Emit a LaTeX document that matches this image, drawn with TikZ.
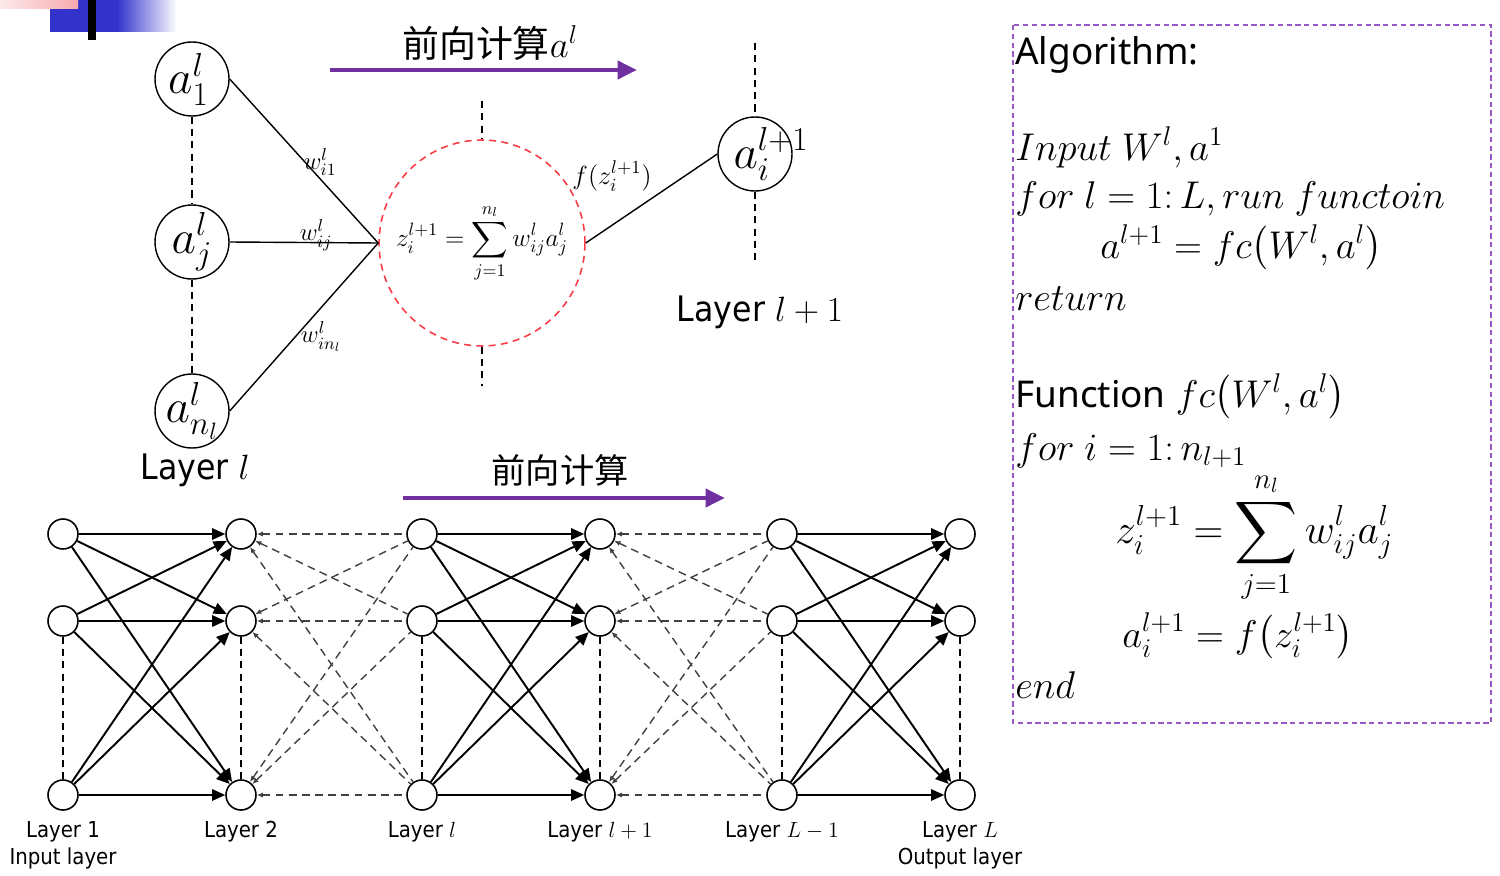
\RequirePackage{fix-cm}
\documentclass[tikz,border=0pt]{standalone}
\usepackage{exscale}
\usepackage[no-math]{fontspec}
\setmainfont{Noto Sans}
\newfontfamily\layerfont{DejaVu Sans Condensed}
\newfontfamily\cjk{Noto Sans CJK SC}
\usetikzlibrary{arrows.meta}
\definecolor{fwdpurple}{RGB}{112,48,160}
\definecolor{boxpurple}{RGB}{150,90,200}
\definecolor{sumred}{RGB}{250,60,70}
\definecolor{decoblue}{RGB}{51,51,204}
\definecolor{decopink}{RGB}{247,170,175}

\begin{document}
\begin{tikzpicture}[x=0.02cm,y=-0.02cm,
    neuron/.style={circle,draw,line width=0.8pt,minimum size=1.48cm,inner sep=0pt},
    neulab/.style={font=\fontsize{27}{30}\selectfont,inner sep=0pt},
    sumnode/.style={circle,draw=sumred,line width=0.9pt,dash pattern=on 4pt off 3pt,minimum size=4.12cm,inner sep=0pt,font=\fontsize{14.5}{17}\selectfont},
    wlab/.style={font=\fontsize{14}{16}\selectfont,inner sep=0pt},
    vline/.style={line width=0.8pt,dash pattern=on 4pt off 3pt},
    unit/.style={circle,draw,line width=0.9pt,minimum size=0.6cm,inner sep=0pt},
    fwd/.style={line width=1.1pt,-{Triangle[length=7.5pt,width=6.5pt]}},
    skip/.style={line width=0.8pt,black!75,dash pattern=on 4.5pt off 3pt,{Latex[length=3.5pt,width=3pt]}-},
    fwdarrow/.style={line width=2.8pt,fwdpurple,-{Triangle[length=11pt,width=10pt]}},
    cjktitle/.style={font=\cjk\fontsize{21}{25}\selectfont},
    toplayer/.style={font=\layerfont\fontsize{20}{24}\selectfont},
    botlayer/.style={font=\layerfont\fontsize{12.5}{15}\selectfont,inner sep=0pt},
    algtext/.style={anchor=base west,inner sep=0pt,font=\fontsize{22}{26}\selectfont}]
\useasboundingbox (0,0) rectangle (1500,875);

\fill[decoblue] (50,0) rectangle (117,32);
\shade[left color=decoblue,right color=white] (117,0) rectangle (177,32);
\shade[left color=decopink!25,right color=decopink] (0,0) rectangle (78,9);
\fill[black] (88,0) rectangle (96,40);

\node[cjktitle] (title1) at (490,43) {前向计算$a^l$};
\coordinate (fa1) at (330,70);
\coordinate (fa2) at (637,70);
\draw[fwdarrow] (fa1) -- (fa2);

\node[neuron,label={[neulab,xshift=-2pt]center:$a_1^l$}] (a1) at (192,79) {};
\node[neuron,label={[neulab]center:$a_j^l$}] (aj) at (192,242) {};
\node[neuron,label={[neulab]center:$a_{n_l}^l$}] (an) at (192,411) {};
\draw[vline] (a1) -- (aj);
\draw[vline] (aj) -- (an);
\node[toplayer] (layl) at (195,470) {Layer $l$};

\node[sumnode] (zc) at (482,243) {$\displaystyle z_i^{l+1}=\sum_{j=1}^{n_l}w_{ij}^l a_j^l$};
\coordinate (zt) at (482,101);
\coordinate (zb) at (482,386);
\draw[vline] (zt) -- (zc.north);
\draw[vline] (zc.south) -- (zb);

\draw[line width=0.8pt] (a1.east) -- (zc.west);
\draw[line width=0.8pt] (aj.east) -- (zc.west);
\draw[line width=0.8pt] (an.east) -- (zc.west);
\node[wlab] (w1) at (320,162) {$w_{i1}^l$};
\node[wlab] (wj) at (316,235) {$w_{ij}^l$};
\node[wlab] (wn) at (321,337) {$w_{in_l}^l$};

\node[neuron,label={[neulab,xshift=0.32cm]center:$a_i^{l+1}$}] (ai) at (755,154) {};
\coordinate (at) at (755,43);
\coordinate (ab) at (755,262);
\draw[vline] (at) -- (ai.north);
\draw[vline] (ai.south) -- (ab);
\draw[line width=0.8pt] (zc.east) -- (ai.west);
\node[font=\fontsize{15}{18}\selectfont] (fz) at (612,176) {$f(z_i^{l+1})$};
\node[toplayer] (layl1) at (760,312) {Layer $l+1$};

\node[cjktitle,font=\cjk\fontsize{19.5}{23}\selectfont] (title2) at (560,470) {前向计算};
\coordinate (fb1) at (403,498);
\coordinate (fb2) at (725,498);
\draw[fwdarrow] (fb1) -- (fb2);

\foreach \c/\x in {1/63,2/241,3/422,4/600,5/782,6/960}
  \foreach \r/\y in {1/534,2/621,3/795}
    \node[unit] (n\c\r) at (\x,\y) {};
\foreach \c in {1,...,6}
  \draw[vline] (n\c2) -- (n\c3);
\foreach \a/\b in {1/2,3/4,5/6}
  \foreach \i in {1,2,3}
    \foreach \j in {1,2,3}
      \draw[fwd] (n\a\i) -- (n\b\j);
\foreach \a/\b in {2/3,4/5}
  \foreach \i in {1,2,3}
    \foreach \j in {1,2,3}
      \draw[skip] (n\a\i) -- (n\b\j);

\node[botlayer] (lb1) at (63,832) {Layer 1};
\node[botlayer] (lb1b) at (63,858) {Input layer};
\node[botlayer] (lb2) at (241,832) {Layer 2};
\node[botlayer] (lb3) at (422,832) {Layer $l$};
\node[botlayer] (lb4) at (600,832) {Layer $l+1$};
\node[botlayer] (lb5) at (782,832) {Layer $L-1$};
\node[botlayer] (lb6) at (960,832) {Layer $L$};
\node[botlayer] (lb6b) at (960,858) {Output layer};

\draw[boxpurple,line width=0.8pt,dash pattern=on 3pt off 2pt] (1013,25) rectangle (1491,723);
\node[algtext,font=\fontsize{21}{25}\selectfont] (alg) at (1015,65) {Algorithm:};
\node[algtext] (inp) at (1015,160) {$Input\ W^l, a^1$};
\node[algtext] (forl) at (1015,208) {$for\ l = 1{:}\,L, run\ functoin$};
\node[algtext] (step) at (1100,258) {$a^{l+1} = fc\bigl(W^l, a^l\bigr)$};
\node[algtext] (ret) at (1015,310) {$return$};
\node[algtext] (fun) at (1015,407) {{\fontsize{21}{25}\selectfont Function} $fc\bigl(W^l, a^l\bigr)$};
\node[algtext] (fori) at (1015,460) {$for\ i = 1{:}\,n_{l+1}$};
\node[algtext,font=\fontsize{23.5}{27}\selectfont] (zsum) at (1115,543) {$\displaystyle z_i^{l+1} = \sum_{j=1}^{n_l} w_{ij}^l a_j^l$};
\node[algtext] (aout) at (1122,647) {$a_i^{l+1} = f\bigl(z_i^{l+1}\bigr)$};
\node[algtext] (fin) at (1015,698) {$end$};
\end{tikzpicture}
\end{document}
